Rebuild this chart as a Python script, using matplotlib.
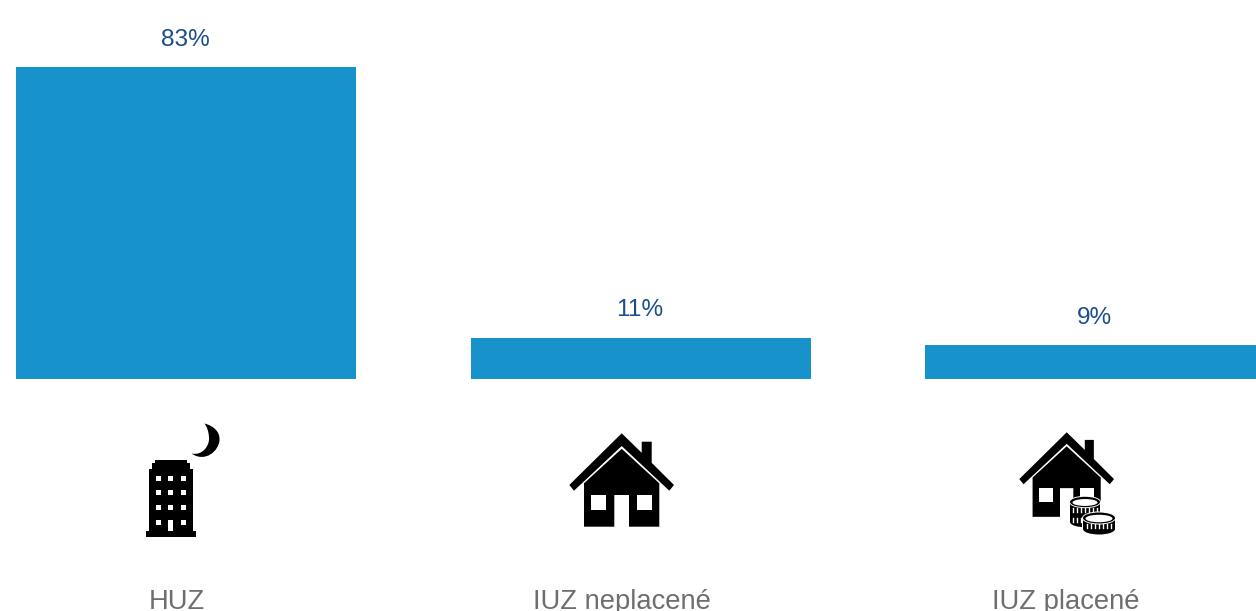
import matplotlib
matplotlib.use('Agg')
import matplotlib.pyplot as plt
from matplotlib.patches import Ellipse, PathPatch, Polygon, Rectangle
from matplotlib.path import Path

categories = ['HUZ', 'IUZ neplacené', 'IUZ placené']
values = [83, 11, 9]

BAR = '#1892ca'
LABEL = '#1a4f8b'
GREY = '#6e6e6e'

plt.rcParams['font.family'] = ['Liberation Sans', 'DejaVu Sans']

W, H = 1256, 611
fig = plt.figure(figsize=(W / 100, H / 100), dpi=100)

# value axis: 3.76 px per percent, baseline at y=379 px, bars 454.5 px apart
ax = fig.add_axes([0, 0, 1, 1])
ax.bar(range(len(values)), values, width=340 / 454.5, color=BAR)
ax.set_xlim(-186 / 454.5, (W - 186) / 454.5)
ax.set_ylim((379 - H) / 3.76, 379 / 3.76)
ax.axis('off')

# category names sit under the icons, not under the bars
name_shift = [-9, -19, -29]
for i, v in enumerate(values):
    ax.annotate(f'{v}%', (i, v), xytext=(-0.7, 19.7), textcoords='offset points',
                ha='center', va='center', fontsize=17.6, color=LABEL)
    # the reference cuts these off at the bottom edge too
    ax.annotate(categories[i], (i, 0), xytext=(name_shift[i] * 0.72, -160.4), textcoords='offset points',
                ha='center', va='center', fontsize=19.7, color=GREY)

# icons, drawn in pixel coordinates of the image
ic = fig.add_axes([0, 0, 1, 1])
ic.set_xlim(0, W)
ic.set_ylim(H, 0)
ic.axis('off')
ic.patch.set_alpha(0)


def building(ic):
    outline = [(146, 537), (146, 531), (149, 531), (149, 469), (152, 469), (152, 463),
               (155, 463), (155, 460), (187, 460), (187, 463), (190, 463), (190, 469),
               (193, 469), (193, 531), (196, 531), (196, 537)]
    ic.add_patch(Polygon(outline, fc='black', ec='none'))
    for y in [478.3, 492.7, 507.3, 522.3]:
        for x in [158.7, 170.7, 183.3]:
            if y > 520 and x == 170.7:
                ic.add_patch(Rectangle((168.3, 519.5), 5, 11, fc='white', ec='none'))
            else:
                ic.add_patch(Rectangle((x - 2.6, y - 2.6), 5.2, 5.2, fc='white', ec='none'))
    moon = Path([(204.5, 423.5), (214, 426), (220, 432), (219.5, 440),
                 (219, 451), (205, 463), (191.5, 453.5),
                 (202, 456), (210, 446), (209, 437),
                 (208.5, 431), (207, 427), (204.5, 423.5)],
                [Path.MOVETO] + [Path.CURVE4] * 12)
    ic.add_patch(PathPatch(moon, fc='black', ec='none'))


def house(ic, ax0, ay0, s):
    # offsets from the roof apex, scaled by s
    def pts(lst):
        return [(ax0 + x * s, ay0 + y * s) for x, y in lst]
    roof = [(0, 0), (20, 19.5), (20, 8.4), (30, 8.4), (30, 29.5), (52.3, 51.7), (47.6, 57.4),
            (0, 12.7), (-47.7, 57.4), (-52.4, 51.7)]
    ic.add_patch(Polygon(pts(roof), fc='black', ec='none'))
    body = [(0, 15.5), (37.6, 50), (37.6, 93.4), (7.3, 93.4), (7.3, 61.7), (-7.4, 61.7),
            (-7.4, 93.4), (-37.7, 93.4), (-37.7, 50)]
    ic.add_patch(Polygon(pts(body), fc='black', ec='none'))
    for x0 in [-30.7, 15]:
        ic.add_patch(Polygon(pts([(x0, 61.7), (x0 + 15.4, 61.7), (x0 + 15.4, 76.7), (x0, 76.7)]),
                             fc='white', ec='none'))


def coins(ic, cx, top, bottom, rx=15, ry=5.2):
    # stack of coins, top face on top, ridged edge below, white halo round it
    ic.add_patch(Rectangle((cx - rx - 1.2, top), 2 * rx + 2.4, bottom - top, fc='white', ec='none', zorder=5))
    ic.add_patch(Ellipse((cx, bottom), 2 * rx + 2.4, 2 * ry + 2.4, fc='white', ec='none', zorder=5))
    ic.add_patch(Rectangle((cx - rx, top), 2 * rx, bottom - top, fc='black', ec='none', zorder=5))
    ic.add_patch(Ellipse((cx, bottom), 2 * rx, 2 * ry, fc='black', ec='none', zorder=5))
    n = int((bottom - top) // 9)
    for k in range(n):
        yy = top + 4 + k * (bottom - top) / max(n, 1)
        for dx in range(-12, 13, 4):
            ic.plot([cx + dx, cx + dx], [yy + 2, yy + 5.5], color='white', lw=1, zorder=5)
    ic.add_patch(Ellipse((cx, top), 2 * rx + 2, 2 * ry + 2, fc='white', ec='none', zorder=5))
    ic.add_patch(Ellipse((cx, top), 2 * rx, 2 * ry, fc='black', ec='none', zorder=5))
    ic.add_patch(Ellipse((cx, top + 0.5), 2 * rx - 5, 2 * ry - 3.5, fc='white', ec='none', zorder=5))


building(ic)
house(ic, 621.7, 433.3, 1.0)
house(ic, 1066.7, 432.3, 0.905)
coins(ic, 1085, 502, 522)
coins(ic, 1099, 518, 529, rx=16, ry=5.5)

fig.savefig('out.png', dpi=100)
